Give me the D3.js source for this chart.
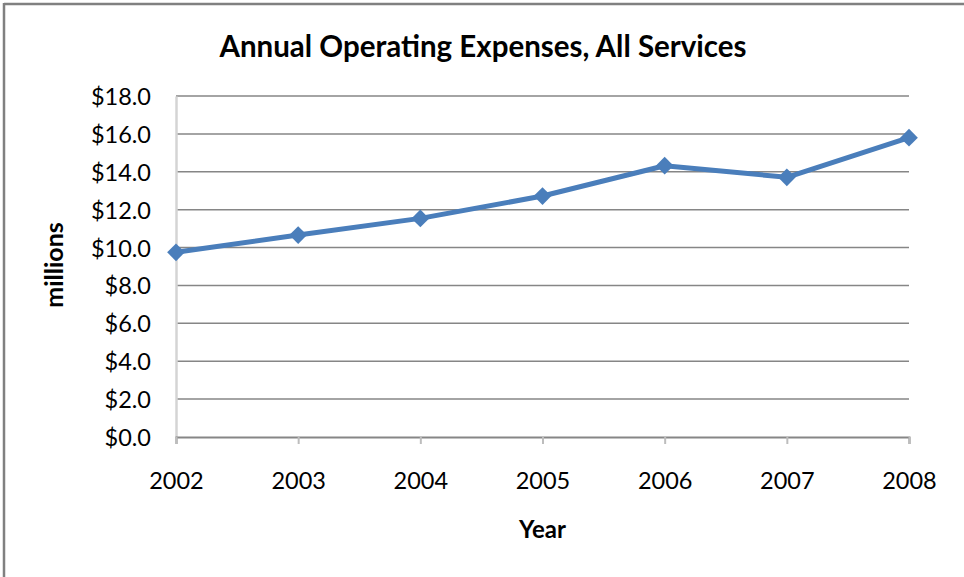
<!DOCTYPE html>
<html><head><meta charset="utf-8">
<script src="https://cdn.jsdelivr.net/npm/d3@7"></script>
<style>
html,body{margin:0;padding:0;background:#fff;}
svg{display:block;}
text{font-family:Lato,"Open Sans",sans-serif;fill:#000;}
</style></head>
<body>
<svg id="chart" width="964" height="577"></svg>
<script>
const years = ["2002","2003","2004","2005","2006","2007","2008"];
const expenses = [9.75, 10.66, 11.54, 12.72, 14.32, 13.71, 15.80];
const yTicks = [0,2,4,6,8,10,12,14,16,18];
const titleText = "Annual Operating Expenses, All Services";
const xLabel = "Year";
const yLabel = "millions";

const svg = d3.select("#chart");
const W = 964, H = 577;
const m = {left:176, right:964-909, top:96, bottom:577-437};

// outer frame (top & left visible)
svg.append("line").attr("x1",4).attr("x2",W).attr("y1",4).attr("y2",4).attr("stroke","#808080").attr("stroke-width",2.5);
svg.append("line").attr("x1",4).attr("x2",4).attr("y1",3).attr("y2",H).attr("stroke","#808080").attr("stroke-width",2.5);

const x = d3.scalePoint().domain(years).range([m.left, W-m.right]);
const y = d3.scaleLinear().domain([0,18]).range([H-m.bottom, m.top]);

// gridlines
svg.append("g").selectAll("line").data(yTicks.filter(d=>d>0)).join("line")
  .attr("x1",m.left).attr("x2",W-m.right)
  .attr("y1",d=>y(d)).attr("y2",d=>y(d))
  .attr("stroke","#868686").attr("stroke-width",1.5);

// y axis
const yAxis = svg.append("g").attr("transform",`translate(${m.left},0)`)
  .call(d3.axisLeft(y).tickValues(yTicks).tickFormat(d=>"$"+d.toFixed(1)).tickSize(0).tickPadding(25));
yAxis.select(".domain").attr("stroke","#d4d4d4").attr("stroke-width",2.5);
yAxis.selectAll("text").attr("font-size",23.5).attr("fill","#000").attr("dy","0.36em");

// x axis
const xAxis = svg.append("g").attr("transform",`translate(0,${H-m.bottom})`)
  .call(d3.axisBottom(x).tickSize(7).tickPadding(28).tickSizeOuter(7));
xAxis.select(".domain").attr("stroke","#868686").attr("stroke-width",2);
xAxis.selectAll(".tick line").attr("stroke","#bdbdbd").attr("stroke-width",2);
xAxis.selectAll("text").attr("font-size",23.5).attr("fill","#000");

// line
const line = d3.line().x((d,i)=>x(years[i])).y(d=>y(d));
svg.append("path").datum(expenses).attr("d",line)
  .attr("fill","none").attr("stroke","#4a7ebb").attr("stroke-width",5).attr("stroke-linejoin","round");

// markers
svg.append("g").selectAll("path").data(expenses).join("path")
  .attr("d",d3.symbol().type(d3.symbolDiamond2).size(200))
  .attr("transform",(d,i)=>`translate(${x(years[i])},${y(d)})`)
  .attr("fill","#4a7ebb");

// title
svg.append("text").attr("x",483).attr("y",57)
  .attr("text-anchor","middle").attr("font-size",29.5).attr("font-weight","bold").text(titleText);

// axis titles
svg.append("text").attr("x",(m.left+W-m.right)/2).attr("y",538)
  .attr("text-anchor","middle").attr("font-size",24).attr("font-weight","bold").text(xLabel);
svg.append("text").attr("transform","translate(63,265) rotate(-90)")
  .attr("text-anchor","middle").attr("font-size",25).attr("font-weight","bold").text(yLabel);
</script>
</body></html>
